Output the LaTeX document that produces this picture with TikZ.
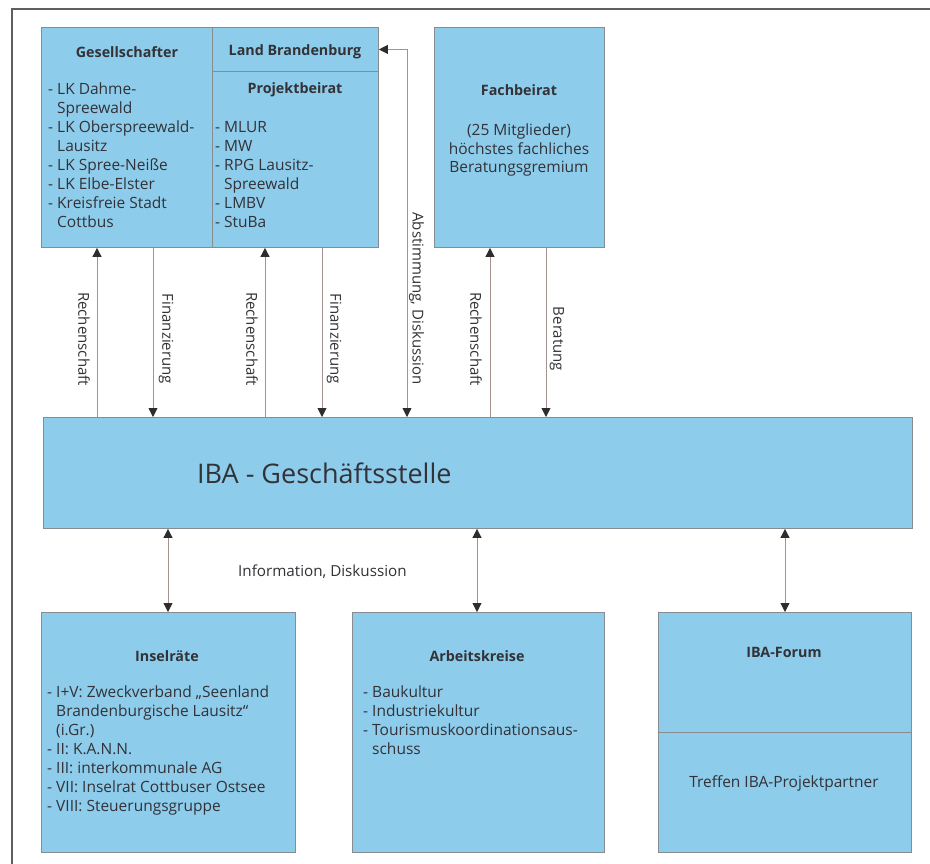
\documentclass[tikz,border=0pt]{standalone}
\usepackage{fontspec}
\setmainfont{Open Sans}
\usetikzlibrary{arrows.meta}
\definecolor{boxfill}{RGB}{142,204,235}
\definecolor{boxline}{RGB}{135,140,145}
\definecolor{arrline}{RGB}{165,145,142}
\definecolor{tipc}{RGB}{45,45,45}
\definecolor{txt}{RGB}{50,50,55}
\definecolor{framec}{RGB}{95,95,95}
\begin{document}
\begin{tikzpicture}[x=1pt,y=-1pt,
  boxst/.style={draw=boxline, line width=0.9pt, fill=boxfill, inner sep=0pt, anchor=north west},
  ttlst/.style={font=\fontsize{14.3}{19}\selectfont\bfseries, text=txt, inner sep=0pt},
  bodyst/.style={font=\fontsize{15.5}{19}\selectfont, text=txt, inner sep=0pt, align=left, anchor=north west},
  ctrst/.style={font=\fontsize{15.5}{18.5}\selectfont, text=txt, inner sep=0pt, align=center},
  labst/.style={font=\fontsize{15}{17}\selectfont, text=txt, inner sep=0pt, rotate=-90},
  connst/.style={draw=arrline, line width=0.8pt},
  headst/.style={-{Triangle[width=9pt,length=9pt,color=tipc]}},
  bothst/.style={{Triangle[width=9pt,length=9pt,color=tipc]}-{Triangle[width=9pt,length=9pt,color=tipc]}}
]
\useasboundingbox (0,0) rectangle (930,864);
\fill[white] (0,0) rectangle (930,864);
% frame
\draw[framec, line width=1.5pt] (12,864) -- (12,9) -- (930,9);

% boxes
\node[boxst, minimum width=171pt, minimum height=220pt] (ges) at (41,27) {};
\node[boxst, minimum width=166pt, minimum height=44pt] (land) at (212,27) {};
\node[boxst, minimum width=166pt, minimum height=176pt] (proj) at (212,71) {};
\node[boxst, minimum width=170pt, minimum height=220pt] (fach) at (434,27) {};
\node[boxst, minimum width=869pt, minimum height=111pt] (iba) at (43,417) {};
\node[boxst, minimum width=254pt, minimum height=240pt] (insel) at (41,612) {};
\node[boxst, minimum width=252pt, minimum height=240pt] (arbeit) at (352,612) {};
\node[boxst, minimum width=253pt, minimum height=120pt] (forum) at (658,612) {};
\node[boxst, minimum width=253pt, minimum height=120pt] (treffen) at (658,732) {};

% titles
\node[ttlst] (tges) at (127,52) {Gesellschafter};
\node[ttlst] (tland) at (295,52) {Land Brandenburg};
\node[ttlst] (tproj) at (295,90) {Projektbeirat};
\node[ttlst] (tfach) at (519,90) {Fachbeirat};
\node[ttlst] (tinsel) at (167,656) {Inselräte};
\node[ttlst] (tarb) at (477,656) {Arbeitskreise};
\node[ttlst] (tforum) at (784,652) {IBA-Forum};

% lists
\node[bodyst] (lges) at (48,81) {\strut- LK Dahme-\\\phantom{- }Spreewald\\- LK Oberspreewald-\\\phantom{- }Lausitz\\- LK Spree-Neiße\\- LK Elbe-Elster\\- Kreisfreie Stadt\\\phantom{- }Cottbus};
\node[bodyst] (lproj) at (215,119) {\strut- MLUR\\- MW\\- RPG Lausitz-\\\phantom{- }Spreewald\\- LMBV\\- StuBa};
\node[ctrst] (lfach) at (519,150) {(25 Mitglieder)\\höchstes fachliches\\Beratungsgremium};
\node[bodyst] (linsel) at (47,684) {\strut- I+V: Zweckverband „Seenland\\\phantom{- }Brandenburgische Lausitz“\\\phantom{- }(i.Gr.)\\- II: K.A.N.N.\\- III: interkommunale AG\\- VII: Inselrat Cottbuser Ostsee\\- VIII: Steuerungsgruppe};
\node[bodyst] (larb) at (363,684) {\strut- Baukultur\\- Industriekultur\\- Tourismuskoordinationsaus-\\\phantom{- }schuss};
\node[ctrst] (ltreffen) at (784,783) {Treffen IBA-Projektpartner};

% main
\node[font=\fontsize{27}{32}\selectfont, text=txt, inner sep=0pt, anchor=west] (tiba) at (197,473) {IBA - Geschäftsstelle};
\node[font=\fontsize{15.2}{17}\selectfont, text=txt, inner sep=0pt, anchor=west] (tinfo) at (238,572) {Information, Diskussion};

% connector columns
\coordinate (c1) at (97,0);
\coordinate (c2) at (153,0);
\coordinate (c3) at (265,0);
\coordinate (c4) at (322,0);
\coordinate (c5) at (407,0);
\coordinate (c6) at (490,0);
\coordinate (c7) at (546,0);
\coordinate (d1) at (168,0);
\coordinate (d2) at (477,0);
\coordinate (d3) at (785,0);

\draw[connst, headst] (c1 |- iba.north) -- (c1 |- ges.south);
\draw[connst, headst] (c2 |- ges.south) -- (c2 |- iba.north);
\draw[connst, headst] (c3 |- iba.north) -- (c3 |- proj.south);
\draw[connst, headst] (c4 |- proj.south) -- (c4 |- iba.north);
\draw[connst, bothst] (land.east) -- (c5 |- land.east) -- (c5 |- iba.north);
\draw[connst, headst] (c6 |- iba.north) -- (c6 |- fach.south);
\draw[connst, headst] (c7 |- fach.south) -- (c7 |- iba.north);
\draw[connst, bothst] (d1 |- iba.south) -- (d1 |- insel.north);
\draw[connst, bothst] (d2 |- iba.south) -- (d2 |- arbeit.north);
\draw[connst, bothst] (d3 |- iba.south) -- (d3 |- forum.north);

% connector labels
\node[labst] (l1) at (84,339) {Rechenschaft};
\node[labst] (l2) at (166,339) {Finanzierung};
\node[labst] (l3) at (252,339) {Rechenschaft};
\node[labst] (l4) at (334,339) {Finanzierung};
\node[labst, anchor=east] (l5) at (416.5,385) {Abstimmung, Diskussion};
\node[labst] (l6) at (476,339) {Rechenschaft};
\node[labst] (l7) at (557,339) {Beratung};
\end{tikzpicture}
\end{document}
